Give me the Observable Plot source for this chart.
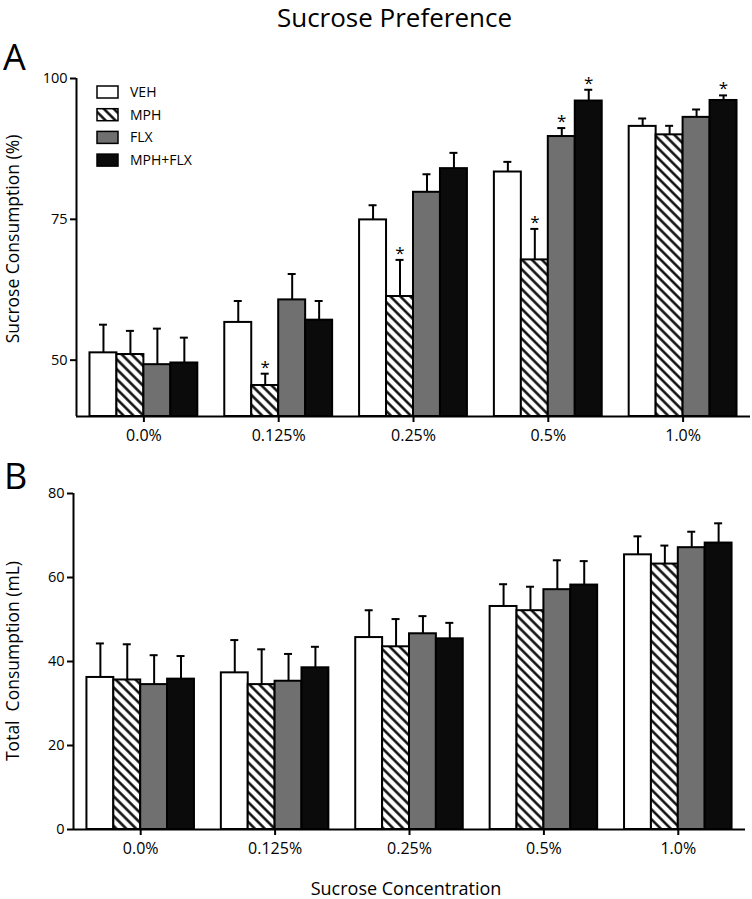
<!DOCTYPE html>
<html><head><meta charset="utf-8">
<script src="https://cdn.jsdelivr.net/npm/d3@7"></script>
<script src="https://cdn.jsdelivr.net/npm/@observablehq/plot@0.6"></script>
<style>
body{margin:0;background:#fff;}
#root{position:relative;width:752px;height:899px;overflow:hidden;font-family:"Open Sans",sans-serif;}
#root svg{position:absolute;left:0;}
</style></head><body><div id="root"></div>
<script>
// ---- data ----
const concentrations = ["0.0%", "0.125%", "0.25%", "0.5%", "1.0%"];
const treatments = ["VEH", "MPH", "FLX", "MPH+FLX"];
// Panel A: sucrose consumption (%) — rows: treatments, columns: concentrations
const prefMeans = [
  [51.3, 56.7, 74.9, 83.4, 91.5],
  [51.0, 45.5, 61.3, 67.8, 90.0],
  [49.2, 60.7, 79.8, 89.7, 93.1],
  [49.5, 57.1, 84.0, 96.0, 96.1]
];
const prefSems = [
  [5.0, 3.8, 2.6, 1.8, 1.4],
  [4.2, 2.1, 6.5, 5.5, 1.6],
  [6.4, 4.6, 3.2, 1.5, 1.4],
  [4.5, 3.4, 2.8, 2.0, 0.9]
];
const prefSig = [
  [0, 0, 0, 0, 0],
  [0, 1, 1, 1, 0],
  [0, 0, 0, 1, 0],
  [0, 0, 0, 1, 1]
];
const prefTicks = [50, 75, 100];
// Panel B: total consumption (mL)
const totalMeans = [
  [36.2, 37.3, 45.7, 53.1, 65.4],
  [35.6, 34.5, 43.5, 52.1, 63.2],
  [34.5, 35.3, 46.6, 57.1, 67.1],
  [35.8, 38.5, 45.4, 58.2, 68.2]
];
const totalSems = [
  [8.1, 7.8, 6.5, 5.3, 4.4],
  [8.5, 8.4, 6.6, 5.7, 4.4],
  [7.0, 6.5, 4.2, 7.0, 3.8],
  [5.5, 5.0, 3.8, 5.7, 4.7]
];
const totalTicks = [0, 20, 40, 60, 80];

// ---- helpers ----
const GROUP = 0.8, BAR = GROUP / treatments.length;
const left = d => d.ci - GROUP / 2 + d.ti * BAR;
const center = d => left(d) + BAR / 2;
function fillFor(ti, hatchId) {
  return ["#ffffff", `url(#${hatchId})`, "#707070", "#0b0b0b"][ti];
}
function rows(means, sems, sig) {
  const out = [];
  concentrations.forEach((c, ci) => treatments.forEach((t, ti) => {
    out.push({ci, ti, conc: c, treat: t, mean: means[ti][ci], top: means[ti][ci] + sems[ti][ci], sig: sig ? sig[ti][ci] : 0});
  }));
  return out;
}
function addHatch(svg, id) {
  const defs = d3.select(svg).insert("defs", ":first-child");
  const p = defs.append("pattern").attr("id", id).attr("patternUnits", "userSpaceOnUse")
    .attr("width", 7).attr("height", 7).attr("patternTransform", "rotate(-45)");
  p.append("rect").attr("width", 7).attr("height", 7).attr("fill", "#fff");
  p.append("line").attr("x1", 3.5).attr("y1", -1).attr("x2", 3.5).attr("y2", 8)
    .attr("stroke", "#000").attr("stroke-width", 2.4);
}

function chart({data, yDomain, yTicks, marginTop, marginLeft, marginRight, marginBottom, height, hatchId}) {
  const base = yDomain[0];
  return Plot.plot({
    width: 752, height, marginTop, marginLeft, marginRight, marginBottom,
    style: {fontFamily: "Open Sans, sans-serif", color: "#000", background: "transparent", overflow: "visible"},
    x: {domain: [-0.5, concentrations.length - 0.5]},
    y: {domain: yDomain},
    color: {type: "identity"},
    marks: [
      Plot.rect(data, {x1: left, x2: d => left(d) + BAR, y1: () => base, y2: "mean",
        fill: d => fillFor(d.ti, hatchId), stroke: "#000", strokeWidth: 2}),
      Plot.ruleX(data, {x: center, y1: "mean", y2: "top", stroke: "#000", strokeWidth: 2}),
      Plot.ruleY(data, {x1: center, x2: center, y: "top", insetLeft: -4, insetRight: -4, stroke: "#000", strokeWidth: 2}),
      Plot.text(data.filter(d => d.sig), {x: center, y: "top", text: () => "*", lineAnchor: "bottom", fontSize: 17, dy: -1, fill: "#000"}),
      Plot.ruleY([base], {stroke: "#000", strokeWidth: 2}),
      Plot.ruleX([-0.5], {stroke: "#000", strokeWidth: 2}),
      Plot.axisX({ticks: concentrations.map((_, i) => i), tickFormat: i => concentrations[i],
        tickSize: 6, tickPadding: 7, fontSize: 16, strokeWidth: 2, label: null}),
      Plot.axisY({ticks: yTicks, tickFormat: d => String(d), tickSize: 6, tickPadding: 3, fontSize: 14.5, strokeWidth: 2, label: null})
    ]
  });
}

const root = document.getElementById("root");

// ---- Panel A ----
const svgA = chart({data: rows(prefMeans, prefSems, prefSig), yDomain: [40, 100], yTicks: prefTicks,
  marginTop: 78, marginLeft: 76, marginRight: 2, marginBottom: 30, height: 446, hatchId: "hatchA"});
svgA.style.top = "0px";
addHatch(svgA, "hatchA");
const gA = d3.select(svgA).append("g").attr("font-family", "Open Sans, sans-serif").attr("fill", "#000").attr("text-anchor", "start");
gA.append("text").attr("x", 394.5).attr("y", 27).attr("text-anchor", "middle").attr("font-size", 26).text("Sucrose Preference");
gA.append("text").attr("x", 3).attr("y", 70).attr("font-size", 36).text("A");
gA.append("text").attr("transform", "translate(19,239) rotate(-90)").attr("text-anchor", "middle").attr("font-size", 17.5).text("Sucrose Consumption (%)");
treatments.forEach((t, i) => {
  const cy = 92 + i * 22.7;
  gA.append("rect").attr("x", 97).attr("y", cy - 6).attr("width", 21).attr("height", 12)
    .attr("fill", fillFor(i, "hatchA")).attr("stroke", "#000").attr("stroke-width", 1.5);
  gA.append("text").attr("x", 130).attr("y", cy).attr("dy", "0.35em").attr("font-size", 14).text(t);
});
root.appendChild(svgA);

// ---- Panel B ----
const svgB = chart({data: rows(totalMeans, totalSems, null), yDomain: [0, 80], yTicks: totalTicks,
  marginTop: 43, marginLeft: 73, marginRight: 7, marginBottom: 70, height: 449, hatchId: "hatchB"});
svgB.style.top = "450px";
addHatch(svgB, "hatchB");
const gB = d3.select(svgB).append("g").attr("font-family", "Open Sans, sans-serif").attr("fill", "#000").attr("text-anchor", "start");
gB.append("text").attr("x", 4).attr("y", 39).attr("font-size", 36).text("B");
gB.append("text").attr("transform", "translate(19,211) rotate(-90)").attr("text-anchor", "middle").attr("font-size", 17.5).attr("xml:space", "preserve").text("Total  Consumption (mL)");
gB.append("text").attr("x", 406).attr("y", 445).attr("text-anchor", "middle").attr("font-size", 18).text("Sucrose Concentration");
root.appendChild(svgB);
</script></body></html>
